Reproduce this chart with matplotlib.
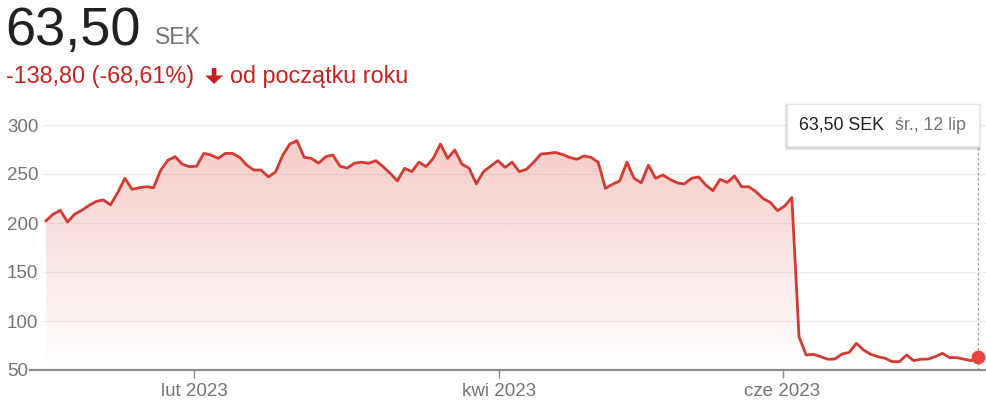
import numpy as np
import matplotlib
matplotlib.use('Agg')
import matplotlib.pyplot as plt
from matplotlib.patches import Polygon, Rectangle

plt.rcParams['font.family'] = ['Liberation Sans', 'DejaVu Sans']

# ---------------- data ----------------
values = [
    202.3, 209, 213, 201, 209, 213, 218, 222, 223.5, 218.5,
    231, 245.6, 234.4, 236, 237, 236, 254, 264, 267.7, 260,
    257.5, 258, 271, 269.4, 266, 271, 271, 267, 259, 254,
    254, 247, 252, 269, 280.6, 284, 267, 266, 261, 267.7,
    269.4, 258, 256, 261, 262, 261, 263.6, 257.5, 250.7, 243,
    255.8, 252.4, 262, 257.5, 266, 280.6, 266, 274.5, 260, 256,
    240, 252.4, 258, 263.6, 256.8, 262, 252.4, 254.8, 262, 270.4,
    271, 272, 270, 267, 265, 268.4, 267, 262, 235.4, 239.5,
    243, 262, 245.6, 241,
    259, 245.6, 249, 244.6, 241, 239.8, 245.6, 247, 238.8, 233,
    244.6, 241.5, 248, 237, 237, 232, 225, 221, 212.6, 217.3, 226,
    84, 65.3, 66, 63.6, 61, 61.2, 66.3, 68, 77.2, 70.4,
    66, 63.6, 62, 58.5, 58.5, 65.3, 59.5, 61, 61.2, 63.6,
    67, 62.6, 62.6, 61, 59.5, 63.5,
]
x_tick_labels = ['lut 2023', 'kwi 2023', 'cze 2023']
x_tick_index = [20.7, 63.2, 102.7]
y_ticks = [50, 100, 150, 200, 250, 300]
y_tick_labels = ['50', '100', '150', '200', '250', '300']
price_text = '63,50'
currency = 'SEK'
change_text = '-138,80 (-68,61%)'
period_text = 'od początku roku'
tooltip_price = '63,50 SEK'
tooltip_date = 'śr., 12 lip'

# ---------------- layout helpers ----------------
W, H = 986, 404
fig = plt.figure(figsize=(W / 100, H / 100), dpi=100)
fig.patch.set_facecolor('white')


def fx(px):
    return px / W


def fy(py):
    return 1 - py / H


ax_left, ax_right, ax_top, ax_bottom = 30, 986, 115.2, 370
ax = fig.add_axes([fx(ax_left), fy(ax_bottom), (ax_right - ax_left) / W, (ax_bottom - ax_top) / H])

n = len(values)
x = np.arange(n)
step = (978.3 - 46) / (n - 1)

# grid lines (start a bit right of the axis start)
grid_x0 = (42 - 46) / step
x_right = (n - 1) + (ax_right - 978.3) / step
for yv in y_ticks[1:]:
    ax.hlines(yv, grid_x0, x_right, color='#efefef', lw=0.9, zorder=0)

# gradient fill under the curve
red = np.array([217, 48, 37]) / 255
grad = np.zeros((256, 1, 4))
grad[..., :3] = red
grad[:, 0, 3] = np.linspace(0.25, 0.0, 256)
ymax = max(values)
im = ax.imshow(grad, aspect='auto', extent=[x[0], x[-1], 50, ymax], origin='upper',
               zorder=1, interpolation='bilinear')
verts = [(x[0], 50)] + list(zip(x, values)) + [(x[-1], 50)]
clip = Polygon(verts, closed=True, facecolor='none', edgecolor='none', transform=ax.transData)
ax.add_patch(clip)
im.set_clip_path(clip)

# line
ax.plot(x, values, color='#d33a30', lw=2.0, solid_joinstyle='round', zorder=3)

# hover guide + end dot
ax.plot([x[-1], x[-1]], [50, 278.6], color='#9aa0a6', lw=0.9, ls=(0, (2, 2)), zorder=2)
ax.plot(x[-1], values[-1], 'o', ms=9, color='#e8453c', mec='#e8453c', zorder=4, clip_on=False)

ax.set_xlim((ax_left - 46) / step, x_right)
ax.set_ylim(50, 310)

# spines / ticks
for s in ['top', 'right', 'left']:
    ax.spines[s].set_visible(False)
ax.spines['bottom'].set_color('#8c8c8c')
ax.spines['bottom'].set_linewidth(1.6)
ax.spines['bottom'].set_zorder(5)

ax.set_xticks(x_tick_index, x_tick_labels)
ax.tick_params(axis='x', length=5.5, width=1.0, color='#8c8c8c', labelcolor='#70757a',
               labelsize=13.5, pad=3.5)
ax.set_yticks(y_ticks, y_tick_labels)
ax.tick_params(axis='y', length=0, labelcolor='#70757a', labelsize=13.5, pad=16.6)
for lbl in ax.get_yticklabels():
    lbl.set_horizontalalignment('left')

# ---------------- tooltip ----------------
tx0, tx1, ty0, ty1 = 787, 979, 104, 146
for grow, alpha in [(3, 0.03), (2, 0.05), (1, 0.08)]:
    fig.patches.append(Rectangle((fx(tx0 - grow), fy(ty1 + grow + 1.5)),
                                 (tx1 - tx0 + 2 * grow) / W, (ty1 - ty0 + 2 * grow) / H,
                                 transform=fig.transFigure, facecolor='black', alpha=alpha,
                                 edgecolor='none', zorder=8))
fig.patches.append(Rectangle((fx(tx0), fy(ty1)), (tx1 - tx0) / W, (ty1 - ty0) / H,
                             transform=fig.transFigure, facecolor='white',
                             edgecolor='#e6e6e6', lw=0.6, zorder=9))
fig.text(fx(799), fy(125.5), tooltip_price, size=12.8, color='#202124', va='center', zorder=10)
fig.text(fx(895), fy(125.5), tooltip_date, size=12.8, color='#70757a', va='center', zorder=10)

# ---------------- header ----------------
fig.text(fx(5), fy(45), price_text, size=39, color='#202124', va='baseline')
fig.text(fx(155), fy(44), currency, size=16.5, color='#70757a', va='baseline')
fig.text(fx(6), fy(83.5), change_text, size=16.8, color='#c5221f', va='baseline')
arrow = [(211.8, 68), (216.4, 68), (216.4, 75.5), (223, 75.5), (214.1, 84), (205.2, 75.5),
         (211.8, 75.5)]
fig.patches.append(Polygon([(fx(a), fy(b)) for a, b in arrow], closed=True,
                           transform=fig.transFigure, facecolor='#c5221f', edgecolor='none'))
fig.text(fx(230), fy(83.5), period_text, size=16.8, color='#c5221f', va='baseline')

fig.savefig('out.png', dpi=100, facecolor='white')
